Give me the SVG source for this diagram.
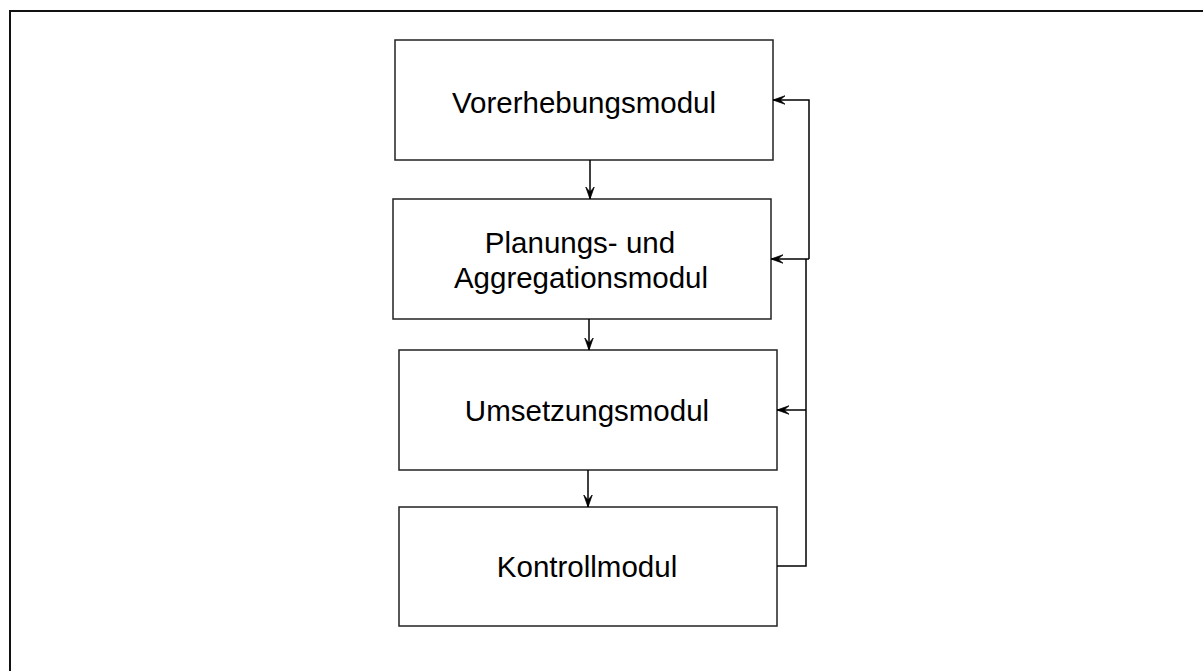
<svg xmlns="http://www.w3.org/2000/svg" width="1203" height="671" viewBox="0 0 1203 671">
  <style>
    .box { fill: #ffffff; stroke: #222222; stroke-width: 1.5; }
    .label { font-family: "Liberation Sans", Arial, sans-serif; font-size: 29.5px; fill: #000000; text-anchor: middle; }
    .wire { fill: none; stroke: #000000; stroke-width: 1.5; }
  </style>
  <defs>
    <marker id="arrow" viewBox="0 0 12 10" refX="12" refY="5" markerWidth="12" markerHeight="10" markerUnits="userSpaceOnUse" orient="auto">
      <path d="M12,5 L0,0.8 L5,5 L0,9.2 Z" fill="#000000" stroke="#000000" stroke-width="0.8" stroke-linejoin="miter"/>
    </marker>
  </defs>

  <rect width="1203" height="671" fill="#ffffff"/>
  <!-- outer frame -->
  <path d="M10,671 L10,11 L1203,11" fill="none" stroke="#111111" stroke-width="2"/>

  <g id="vorerhebung">
    <rect class="box" x="395" y="40" width="378" height="120"/>
    <text class="label" x="584" y="113">Vorerhebungsmodul</text>
  </g>

  <g id="planung">
    <rect class="box" x="393" y="199" width="378" height="120"/>
    <text class="label" x="580" y="253">Planungs- und</text>
    <text class="label" x="581" y="288">Aggregationsmodul</text>
  </g>

  <g id="umsetzung">
    <rect class="box" x="399" y="350" width="378" height="120"/>
    <text class="label" x="587" y="421">Umsetzungsmodul</text>
  </g>

  <g id="kontrolle">
    <rect class="box" x="399" y="507" width="378" height="119"/>
    <text class="label" x="587" y="577">Kontrollmodul</text>
  </g>

  <g id="connectors">
    <line class="wire" x1="590" y1="160" x2="590" y2="199" marker-end="url(#arrow)"/>
    <line class="wire" x1="589" y1="319" x2="589" y2="350" marker-end="url(#arrow)"/>
    <line class="wire" x1="588" y1="470" x2="588" y2="507" marker-end="url(#arrow)"/>
    <!-- feedback loop from Kontrollmodul -->
    <polyline class="wire" points="777,566 806,566 806,259"/>
    <line class="wire" x1="806" y1="410" x2="777" y2="410" marker-end="url(#arrow)"/>
    <line class="wire" x1="809" y1="259" x2="771" y2="259" marker-end="url(#arrow)"/>
    <polyline class="wire" points="809,259 809,100 773,100" marker-end="url(#arrow)"/>
  </g>
</svg>
